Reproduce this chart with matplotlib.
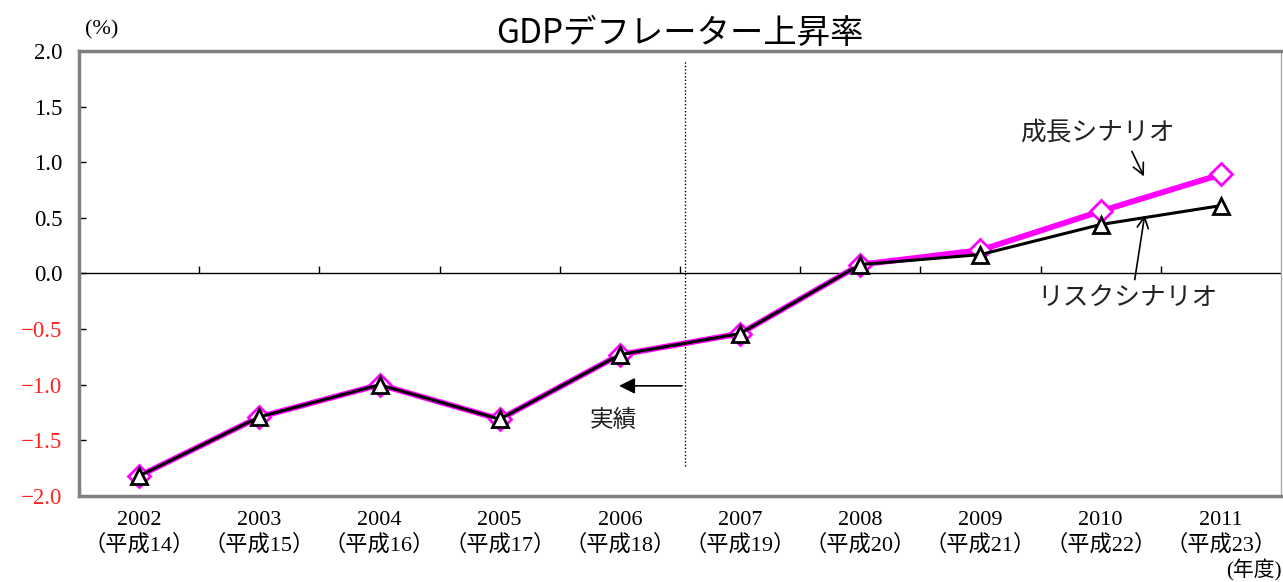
import numpy as np
import matplotlib
matplotlib.use('Agg')
import matplotlib.pyplot as plt

plt.rcParams['font.family'] = ['Liberation Serif', 'Noto Sans CJK JP', 'DejaVu Sans']

years = ['2002', '2003', '2004', '2005', '2006', '2007', '2008', '2009', '2010', '2011']
heisei = ['平成14', '平成15', '平成16', '平成17', '平成18', '平成19', '平成20', '平成21', '平成22', '平成23']
growth = [-1.82, -1.29, -1.00, -1.31, -0.73, -0.54, 0.08, 0.21, 0.56, 0.89]
risk = [-1.82, -1.29, -1.00, -1.31, -0.73, -0.54, 0.08, 0.17, 0.44, 0.61]
yticks = [2.0, 1.5, 1.0, 0.5, 0.0, -0.5, -1.0, -1.5, -2.0]

jp = ['Noto Sans CJK JP', 'DejaVu Sans']

fig = plt.figure(figsize=(12.83, 5.82), dpi=100)
ax = fig.add_axes([0.0616, 0.1478, 0.9368, 0.7646])

x = np.arange(len(years))
ax.plot(x, growth, color='#FF00FF', lw=4.2, marker='D', ms=11, mfc='white',
        mec='#FF00FF', mew=2, zorder=3)
ax.plot(x, risk, color='black', lw=2.2, marker='^', ms=11, mfc='white',
        mec='black', mew=2, zorder=4)

ax.set_xlim(-0.5, len(years) - 0.5)
ax.set_ylim(-2, 2)

# zero line with category-boundary ticks
ax.axhline(0, color='black', lw=1, zorder=1)
ax.vlines(np.arange(len(years) - 1) + 0.5, 0, 0.07, color='black', lw=1, zorder=1)

# actual / forecast divider
ax.vlines(4.54, -1.73, 1.92, color='black', lw=1, linestyles=(0, (1, 1.5)), zorder=2)
ax.annotate('', xy=(3.97, -1.01), xytext=(4.54, -1.01),
            arrowprops=dict(arrowstyle='-|>', color='black', lw=1.2, mutation_scale=24))
ax.text(3.95, -1.32, '実績', family=jp, fontsize=17, ha='center', va='center', color='#222222')

ax.text(7.97, 1.27, '成長シナリオ', family=jp, fontsize=18.5, ha='center', va='center', color='#222222')
ax.annotate('', xy=(8.37, 0.85), xytext=(8.25, 1.12),
            arrowprops=dict(arrowstyle='->', color='black', lw=1.2, mutation_scale=20))
ax.text(8.22, -0.22, 'リスクシナリオ', family=jp, fontsize=18.5, ha='center', va='center', color='#222222')
ax.annotate('', xy=(8.37, 0.55), xytext=(8.28, -0.08),
            arrowprops=dict(arrowstyle='->', color='black', lw=1.2, mutation_scale=20))

for s in ['left', 'top', 'bottom']:
    ax.spines[s].set_color('#808080')
    ax.spines[s].set_linewidth(2.5)
ax.spines['right'].set_color('#aaaaaa')
ax.spines['right'].set_linewidth(1)

ax.set_yticks(yticks)
ax.set_yticklabels(['%.1f' % v if v >= 0 else '\u2212%.1f' % -v for v in yticks], fontsize=16.5)
for lab, v in zip(ax.get_yticklabels(), yticks):
    lab.set_color('#FF2020' if v < 0 else 'black')
ax.tick_params(axis='y', direction='in', length=5, width=1, pad=12)

ax.set_xticks(x)
ax.set_xticklabels(['%s\n（%s）' % (y, h) for y, h in zip(years, heisei)], fontsize=16,
                   linespacing=1.25)
ax.tick_params(axis='x', length=0, pad=11)

ax.set_title('GDPデフレーター上昇率', family=jp, fontsize=24, pad=3)
fig.text(0.079, 0.948, '(%)', fontsize=16, ha='center', va='center')
fig.text(0.999, 0.02, '(年度)', fontsize=15, ha='right', va='center')

fig.savefig('out.png', dpi=100)
